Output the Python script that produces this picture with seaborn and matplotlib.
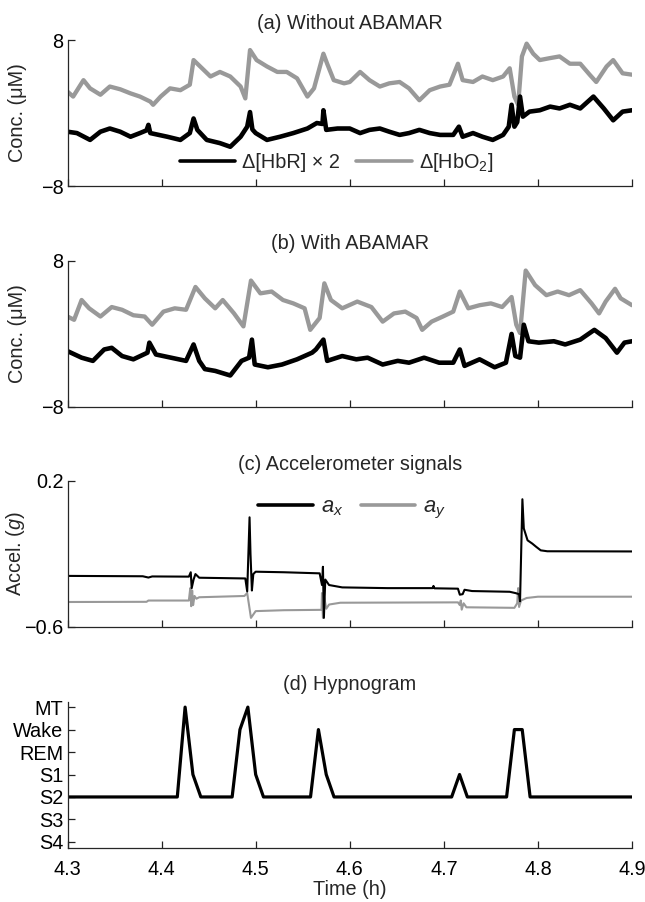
import matplotlib
matplotlib.use("Agg")
import matplotlib.pyplot as plt
import seaborn as sns

# (a) Without ABAMAR
a_hbo_t = [4.300, 4.306, 4.317, 4.324, 4.335, 4.345, 4.356, 4.367, 4.377, 4.388, 4.391, 4.399,
           4.409, 4.420, 4.430, 4.434, 4.441, 4.452, 4.462, 4.473, 4.484, 4.489, 4.494, 4.501,
           4.512, 4.523, 4.533, 4.544, 4.555, 4.562, 4.572, 4.576, 4.583, 4.594, 4.600, 4.611,
           4.621, 4.632, 4.642, 4.653, 4.663, 4.674, 4.685, 4.696, 4.706, 4.715, 4.720, 4.731,
           4.741, 4.752, 4.763, 4.770, 4.775, 4.779, 4.783, 4.788, 4.795, 4.802, 4.812, 4.823,
           4.834, 4.845, 4.855, 4.862, 4.873, 4.880, 4.890, 4.900]
a_hbo = [2.34, 1.8, 3.6, 2.7, 2.0, 2.9, 2.6, 2.15, 1.8, 1.25, 0.9, 1.8,
         2.7, 2.5, 3.1, 5.8, 5.1, 4.0, 4.5, 4.0, 2.9, 1.6, 6.9, 5.8,
         5.1, 4.5, 4.5, 3.8, 1.8, 2.7, 6.5, 5.4, 3.6, 3.25, 3.4, 4.5,
         3.6, 2.9, 3.25, 3.4, 2.7, 1.4, 2.5, 2.9, 3.1, 5.4, 3.6, 3.4,
         4.0, 3.6, 4.0, 4.9, 1.8, 0.9, 6.2, 7.6, 6.5, 5.8, 6.0, 6.2,
         5.4, 5.4, 4.2, 3.4, 5.1, 5.8, 4.35, 4.2]
a_hbr_t = [4.300, 4.310, 4.324, 4.335, 4.345, 4.356, 4.367, 4.377, 4.384, 4.386, 4.388, 4.406,
           4.420, 4.430, 4.434, 4.438, 4.448, 4.462, 4.473, 4.484, 4.491, 4.494, 4.4965, 4.500,
           4.512, 4.526, 4.540, 4.555, 4.565, 4.571, 4.572, 4.575, 4.587, 4.600, 4.611, 4.621,
           4.632, 4.642, 4.653, 4.663, 4.674, 4.685, 4.696, 4.710, 4.716, 4.720, 4.731, 4.741,
           4.752, 4.763, 4.769, 4.772, 4.775, 4.778, 4.781, 4.784, 4.791, 4.802, 4.813, 4.823,
           4.834, 4.845, 4.859, 4.870, 4.880, 4.890, 4.900]
a_hbr = [-2.05, -2.2, -2.95, -2.05, -1.7, -2.05, -2.6, -2.2, -1.9, -1.3, -2.2, -2.6,
         -2.95, -2.2, -0.6, -1.85, -2.95, -3.3, -3.7, -2.6, -1.5, 0.1, -1.8, -2.2,
         -2.95, -2.6, -2.2, -1.7, -1.1, -1.2, 0.3, -1.85, -1.7, -1.7, -2.2, -1.85,
         -1.7, -2.05, -2.4, -2.2, -1.85, -2.2, -2.4, -2.4, -1.5, -2.6, -2.2, -2.6,
         -2.95, -2.4, -1.5, 0.9, -1.5, -1.0, 1.8, -0.4, 0.15, 0.3, 0.7, 0.5,
         0.9, 0.5, 1.8, 0.5, -0.8, 0.15, 0.3]

# (b) With ABAMAR
b_hbo_t = [4.300, 4.307, 4.315, 4.323, 4.335, 4.347, 4.358, 4.370, 4.382, 4.390, 4.402, 4.414,
           4.426, 4.436, 4.446, 4.457, 4.465, 4.477, 4.487, 4.495, 4.505, 4.517, 4.529, 4.540,
           4.552, 4.558, 4.568, 4.573, 4.580, 4.592, 4.608, 4.623, 4.635, 4.647, 4.659, 4.671,
           4.677, 4.687, 4.699, 4.710, 4.717, 4.726, 4.738, 4.750, 4.762, 4.772, 4.777, 4.781,
           4.787, 4.797, 4.809, 4.821, 4.833, 4.845, 4.857, 4.865, 4.872, 4.882, 4.888, 4.900]
b_hbo = [1.86, 1.5, 3.67, 2.76, 1.86, 2.9, 2.6, 2.0, 1.86, 0.96, 2.4, 2.76,
         2.6, 5.1, 3.85, 2.76, 3.67, 2.2, 0.78, 5.8, 4.4, 4.6, 3.67, 3.3,
         2.76, 0.4, 1.7, 5.5, 3.67, 2.76, 3.5, 2.9, 1.3, 2.2, 2.4, 1.7,
         0.4, 1.3, 1.86, 2.4, 4.6, 2.76, 3.1, 3.3, 2.9, 4.0, 0.96, 0.05,
         6.9, 5.3, 4.2, 4.6, 4.2, 4.75, 3.3, 2.2, 3.5, 4.9, 3.85, 3.1]
b_hbr_t = [4.300, 4.315, 4.327, 4.339, 4.347, 4.358, 4.370, 4.385, 4.387, 4.394, 4.410, 4.426,
           4.434, 4.440, 4.446, 4.457, 4.473, 4.485, 4.493, 4.496, 4.499, 4.513, 4.528, 4.544,
           4.560, 4.564, 4.572, 4.576, 4.592, 4.607, 4.619, 4.635, 4.651, 4.663, 4.679, 4.695,
           4.710, 4.717, 4.722, 4.738, 4.754, 4.766, 4.772, 4.776, 4.781, 4.785, 4.790, 4.801,
           4.817, 4.829, 4.845, 4.860, 4.872, 4.884, 4.892, 4.900]
b_hbr = [-1.93, -2.65, -3.0, -1.75, -1.57, -2.47, -2.83, -2.1, -1.0, -2.3, -2.65, -3.0,
         -1.2, -3.0, -3.9, -4.1, -4.6, -3.0, -2.65, -0.67, -3.4, -3.7, -3.4, -2.83,
         -2.1, -1.75, -0.67, -3.0, -2.47, -2.83, -2.65, -3.4, -3.0, -3.2, -2.65, -3.2,
         -3.2, -1.75, -3.55, -2.83, -3.7, -3.2, -0.05, -2.47, -2.65, 0.96, -0.85, -1.0,
         -0.85, -1.2, -0.67, 0.4, -0.5, -2.1, -1.0, -0.85]

# (c) Accelerometer signals
ax_t = [4.300, 4.380, 4.386, 4.390, 4.429, 4.431, 4.432, 4.434, 4.436, 4.440, 4.489, 4.491,
        4.4935, 4.4945, 4.496, 4.4975, 4.500, 4.530, 4.568, 4.5705, 4.5715, 4.5725, 4.574, 4.578,
        4.592, 4.640, 4.688, 4.689, 4.690, 4.715, 4.717, 4.720, 4.722, 4.730, 4.770, 4.776,
        4.780, 4.781, 4.7835, 4.785, 4.789, 4.794, 4.798, 4.803, 4.810, 4.900]
ax_g = [-0.320, -0.322, -0.329, -0.323, -0.324, -0.300, -0.387, -0.340, -0.310, -0.330, -0.334, -0.405,
        0.001, -0.200, -0.400, -0.310, -0.297, -0.300, -0.306, -0.370, -0.270, -0.550, -0.340, -0.370,
        -0.383, -0.387, -0.387, -0.375, -0.388, -0.390, -0.423, -0.420, -0.396, -0.403, -0.407, -0.414,
        -0.420, -0.459, 0.100, -0.060, -0.125, -0.143, -0.160, -0.180, -0.185, -0.186]
ay_t = [4.300, 4.384, 4.386, 4.429, 4.4305, 4.4315, 4.4325, 4.4335, 4.435, 4.437, 4.440, 4.488,
        4.491, 4.495, 4.500, 4.530, 4.570, 4.5705, 4.5715, 4.573, 4.575, 4.578, 4.590, 4.715,
        4.717, 4.718, 4.719, 4.721, 4.724, 4.775, 4.778, 4.779, 4.780, 4.782, 4.788, 4.800, 4.900]
ay_g = [-0.463, -0.462, -0.455, -0.455, -0.387, -0.486, -0.400, -0.480, -0.430, -0.445, -0.437, -0.430,
        -0.414, -0.550, -0.513, -0.508, -0.506, -0.414, -0.550, -0.440, -0.500, -0.477, -0.467, -0.465,
        -0.480, -0.455, -0.505, -0.470, -0.492, -0.495, -0.470, -0.387, -0.490, -0.455, -0.441, -0.434, -0.434]

# (d) Hypnogram: 0=S4 ... 6=MT
stage_labels = ["S4", "S3", "S2", "S1", "REM", "Wake", "MT"]
hyp_t = [4.300, 4.4167, 4.425, 4.4333, 4.4417, 4.475, 4.4833, 4.4917, 4.500, 4.5083,
         4.5583, 4.5667, 4.575, 4.5833, 4.7083, 4.7167, 4.725, 4.7667, 4.775, 4.7833,
         4.7917, 4.900]
hyp_stage = [2, 2, 6, 3, 2, 2, 5, 6, 3, 2,
             2, 5, 3, 2, 2, 3, 2, 2, 5, 5,
             2, 2]

time_ticks = [4.3, 4.4, 4.5, 4.6, 4.7, 4.8, 4.9]

BLACK = "#000000"
GRAY = "#999999"
FS = 14.3

sns.set_style("ticks")
plt.rcParams["font.family"] = ["Liberation Sans", "DejaVu Sans"]
plt.rcParams["mathtext.fontset"] = "custom"
plt.rcParams["mathtext.rm"] = "Liberation Sans"
plt.rcParams["mathtext.it"] = "Liberation Sans:italic"
plt.rcParams["xtick.direction"] = "in"
plt.rcParams["ytick.direction"] = "in"

fig = plt.figure(figsize=(6.45, 9.02), dpi=100)
W, H = 645.0, 902.0
left, right = 67.5, 632.0
tops = [40, 260.5, 481, 701.5]
height = 146.0
axes = []
for t in tops:
    axes.append(fig.add_axes([left / W, 1 - (t + height) / H, (right - left) / W, height / H]))


def style(ax, title):
    sns.despine(ax=ax)
    ax.spines["left"].set_linewidth(0.9)
    ax.spines["bottom"].set_linewidth(0.9)
    ax.set_xlim(4.3, 4.9)
    ax.set_xticks(time_ticks)
    ax.tick_params(axis="both", length=5, width=0.9, labelsize=FS, colors="#222222",
                   labelcolor="black")
    ax.tick_params(axis="y", pad=3)
    ax.tick_params(axis="x", pad=9)
    ax.set_title(title, fontsize=FS, pad=8)
    ax.set_xlabel("")
    ax.yaxis.set_label_coords(-0.072, 0.5)


# panels (a) and (b)
for ax, title, tr, vr, to, vo in [
    (axes[0], "(a) Without ABAMAR", a_hbr_t, a_hbr, a_hbo_t, a_hbo),
    (axes[1], "(b) With ABAMAR", b_hbr_t, b_hbr, b_hbo_t, b_hbo),
]:
    sns.lineplot(x=to, y=vo, ax=ax, color=GRAY, lw=3.1, estimator=None, sort=False,
                 label="Δ[HbO$_2$]")
    sns.lineplot(x=tr, y=vr, ax=ax, color=BLACK, lw=3.3, estimator=None, sort=False,
                 label="Δ[HbR] × 2")
    ax.set_ylim(-8, 8)
    ax.set_yticks([-8, 8])
    ax.set_yticklabels(["\u22128", "8"])
    ax.set_ylabel("Conc. (μM)", fontsize=FS)
    style(ax, title)
    ax.set_xticklabels([])
    if ax is axes[0]:
        h, l = ax.get_legend_handles_labels()
        leg = ax.legend(h[::-1], l[::-1], ncol=2, frameon=False, loc="center",
                        bbox_to_anchor=(0.476, 0.16), fontsize=FS, handlelength=2.8,
                        handletextpad=0.35, columnspacing=0.8, borderaxespad=0)
        for line in leg.get_lines():
            line.set_linewidth(2.6)
    else:
        ax.get_legend().remove()

# panel (c)
ax = axes[2]
sns.lineplot(x=ay_t, y=ay_g, ax=ax, color=GRAY, lw=1.5, estimator=None, sort=False, label="$a_y$")
sns.lineplot(x=ax_t, y=ax_g, ax=ax, color=BLACK, lw=1.5, estimator=None, sort=False, label="$a_x$")
ax.set_ylim(-0.6, 0.2)
ax.set_yticks([-0.6, 0.2])
ax.set_yticklabels(["\u22120.6", "0.2"])
ax.set_ylabel("Accel. ($\\it{g}$)", fontsize=FS)
style(ax, "(c) Accelerometer signals")
ax.set_xticklabels([])
h, l = ax.get_legend_handles_labels()
leg = ax.legend(h[::-1], l[::-1], ncol=2, frameon=False, loc="center",
                bbox_to_anchor=(0.504, 0.81), fontsize=FS + 1.5, handlelength=2.5,
                handletextpad=0.35, columnspacing=0.8, borderaxespad=0)
for line in leg.get_lines():
    line.set_linewidth(2.6)

# panel (d)
ax = axes[3]
sns.lineplot(x=hyp_t, y=hyp_stage, ax=ax, color=BLACK, lw=2.3, estimator=None, sort=False)
ax.set_ylim(-0.25, 6.25)
ax.set_yticks(range(len(stage_labels)))
ax.set_yticklabels(stage_labels)
style(ax, "(d) Hypnogram")
ax.set_xticklabels([f"{v:.1f}" for v in time_ticks])
ax.set_xlabel("Time (h)", fontsize=FS, labelpad=1)
ax.set_ylabel("")

fig.savefig("out.png", dpi=100)
